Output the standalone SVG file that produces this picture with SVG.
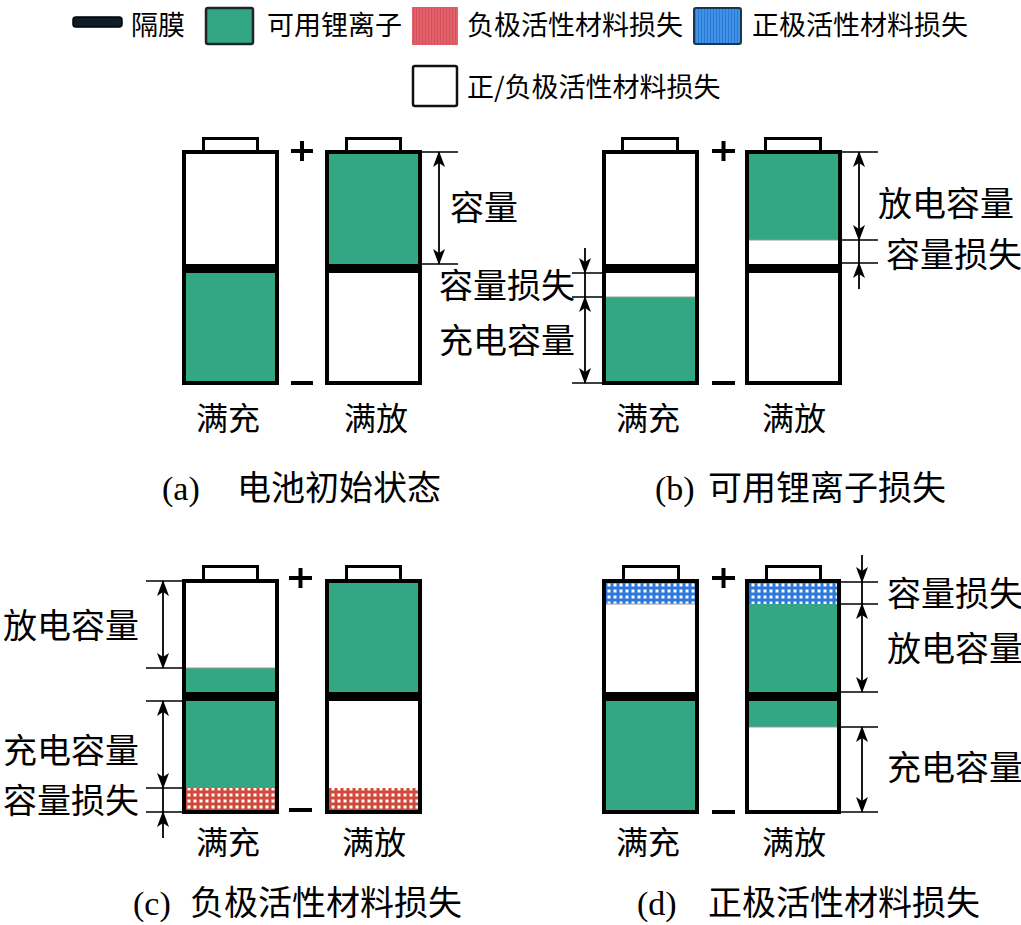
<svg xmlns="http://www.w3.org/2000/svg" width="1021" height="925" viewBox="0 0 1021 925">
<style>
.t{font-family:"Noto Sans CJK SC","Noto Sans",sans-serif;fill:#000}
.leg{font-size:27px}
.lab{font-size:34px}
.bl{font-size:32px}
.cap{font-size:34px}
.ser{font-family:"Liberation Serif","Noto Sans CJK SC",serif}
.body{fill:none;stroke:#000;stroke-width:4}
.capr{fill:#fff;stroke:#000;stroke-width:3}
.g{fill:#33A683}
.w{fill:#fff}
.sep{fill:#000}
.pm{stroke:#000;stroke-width:4;fill:none}
.ext{stroke:#000;stroke-width:1.6;fill:none}
.dim{stroke:#000;stroke-width:1.8;fill:none}
.arr{marker-end:url(#ah)}
.arr2{marker-start:url(#ah);marker-end:url(#ah)}
.bd{stroke:#999;stroke-width:1}
</style>
<defs>
<marker id="ah" viewBox="0 0 16 12" markerWidth="16" markerHeight="12" refX="15" refY="6" orient="auto-start-reverse" markerUnits="userSpaceOnUse">
<path d="M0,0 L16,6 L0,12 L4,6 Z" fill="#000"/>
</marker>
<pattern id="red" width="6" height="6" patternUnits="userSpaceOnUse">
<rect width="6" height="6" fill="#CF4A3A"/>
<rect x="1.5" y="1.5" width="3" height="3" fill="#fff"/>
</pattern>
<pattern id="blue" width="6" height="6" patternUnits="userSpaceOnUse">
<rect width="6" height="6" fill="#2C78DC"/>
<rect x="1.5" y="1.5" width="3" height="3" fill="#fff"/>
</pattern>
<pattern id="legRed" width="3" height="4" patternUnits="userSpaceOnUse">
<rect width="3" height="4" fill="#E0606C"/>
<rect x="2" width="1" height="4" fill="#D85058"/>
</pattern>
<pattern id="legBlue" width="3" height="4" patternUnits="userSpaceOnUse">
<rect width="3" height="4" fill="#3E93E8"/>
<rect x="2" width="1" height="4" fill="#2A78D0"/>
</pattern>
</defs>
<rect width="1021" height="925" fill="#fff"/>

<g id="legend">
<rect x="73" y="17" width="49" height="10" rx="3" fill="#0e1d28" stroke="#000" stroke-width="1.5"/>
<text class="t leg" x="131" y="35">隔膜</text>
<rect x="206" y="8" width="47" height="36" rx="2" fill="#33A683" stroke="#1c2626" stroke-width="2.5"/>
<text class="t leg" x="267" y="35">可用锂离子</text>
<rect x="412" y="7" width="46" height="38" fill="url(#legRed)"/>
<text class="t leg" x="467" y="35">负极活性材料损失</text>
<rect x="694" y="8" width="47" height="36" rx="2" fill="url(#legBlue)" stroke="#1a3550" stroke-width="2"/>
<text class="t leg" x="752" y="35">正极活性材料损失</text>
<rect x="413" y="66" width="44" height="40" rx="2" fill="#fff" stroke="#111" stroke-width="2.5"/>
<text class="t leg" x="467" y="97">正/负极活性材料损失</text>
</g>

<!-- Panel a -->
<g id="a-full">
<rect class="capr" x="203.5" y="138.5" width="54" height="13"/>
<rect class="w" x="184" y="152" width="93" height="112"/>
<rect class="g" x="184" y="273" width="93" height="110"/>
<rect class="sep" x="182" y="264" width="97" height="9"/>
<rect class="body" x="184" y="152" width="93" height="231"/>
<text class="t bl" x="228" y="430" text-anchor="middle">满充</text>
</g>
<g id="a-empty">
<rect class="capr" x="346.5" y="138.5" width="54" height="13"/>
<rect class="g" x="327" y="152" width="93" height="112"/>
<rect class="w" x="327" y="273" width="93" height="110"/>
<rect class="sep" x="325" y="264" width="97" height="9"/>
<rect class="body" x="327" y="152" width="93" height="231"/>
<text class="t bl" x="376" y="430" text-anchor="middle">满放</text>
</g>
<g id="a-signs">
<path class="pm" d="M291,151 H313 M302,141 V161 M291,383 H313"/>
</g>
<g id="a-labels">
<text class="t lab" x="450" y="220">容量</text>
<text class="t cap" x="162" y="500"><tspan class="ser">(a)</tspan><tspan x="237">电池初始状态</tspan></text>
</g>

<!-- Panel b -->
<g id="b-full">
<rect class="capr" x="622.5" y="138.5" width="55" height="13"/>
<rect class="w" x="604" y="152" width="93" height="231"/>
<rect class="g" x="604" y="297" width="93" height="86"/>
<line class="bd" x1="604" y1="297" x2="697" y2="297"/>
<rect class="sep" x="602" y="264" width="97" height="9"/>
<rect class="body" x="604" y="152" width="93" height="231"/>
<text class="t bl" x="648" y="430" text-anchor="middle">满充</text>
</g>
<g id="b-empty">
<rect class="capr" x="765.5" y="138.5" width="55" height="13"/>
<rect class="w" x="747" y="152" width="93" height="231"/>
<rect class="g" x="747" y="152" width="93" height="88"/>
<line class="bd" x1="747" y1="240" x2="840" y2="240"/>
<rect class="sep" x="745" y="264" width="97" height="9"/>
<rect class="body" x="747" y="152" width="93" height="231"/>
<text class="t bl" x="794" y="430" text-anchor="middle">满放</text>
</g>
<g id="b-signs">
<path class="pm" d="M712,151 H735 M723.5,141 V161 M712,383 H735"/>
</g>
<g id="b-labels">
<text class="t lab" x="439" y="298">容量损失</text>
<text class="t lab" x="439" y="353">充电容量</text>
<text class="t lab" x="878" y="216">放电容量</text>
<text class="t lab" x="886" y="267">容量损失</text>
<text class="t cap" x="655" y="500"><tspan class="ser">(b)</tspan><tspan x="708">可用锂离子损失</tspan></text>
</g>

<!-- Panel c -->
<g id="c-full">
<rect class="capr" x="203.5" y="566.5" width="54" height="14"/>
<rect class="w" x="184" y="581" width="93" height="231"/>
<rect class="g" x="184" y="668" width="93" height="24"/>
<rect class="g" x="184" y="701" width="93" height="87"/>
<rect x="184" y="788" width="93" height="24" fill="url(#red)"/>
<line class="bd" x1="184" y1="668" x2="277" y2="668"/>
<rect class="sep" x="182" y="692" width="97" height="9"/>
<rect class="body" x="184" y="581" width="93" height="231"/>
<text class="t bl" x="228" y="854" text-anchor="middle">满充</text>
</g>
<g id="c-empty">
<rect class="capr" x="346.5" y="566.5" width="54" height="14"/>
<rect class="g" x="327" y="581" width="93" height="111"/>
<rect class="w" x="327" y="701" width="93" height="87"/>
<rect x="327" y="788" width="93" height="24" fill="url(#red)"/>
<rect class="sep" x="325" y="692" width="97" height="9"/>
<rect class="body" x="327" y="581" width="93" height="231"/>
<text class="t bl" x="374" y="854" text-anchor="middle">满放</text>
</g>
<g id="c-signs">
<path class="pm" d="M289,578 H312 M300.5,568 V588 M289,810 H312"/>
</g>
<g id="c-labels">
<text class="t lab" x="3" y="638">放电容量</text>
<text class="t lab" x="3" y="763">充电容量</text>
<text class="t lab" x="3" y="813">容量损失</text>
<text class="t cap" x="133" y="915"><tspan class="ser">(c)</tspan><tspan x="190">负极活性材料损失</tspan></text>
</g>

<!-- Panel d -->
<g id="d-full">
<rect class="capr" x="623.5" y="566.5" width="55" height="14"/>
<rect class="w" x="604" y="581" width="93" height="231"/>
<rect x="604" y="581" width="93" height="23" fill="url(#blue)"/>
<rect class="g" x="604" y="701" width="93" height="111"/>
<line class="bd" x1="604" y1="604" x2="697" y2="604"/>
<rect class="sep" x="602" y="692" width="97" height="9"/>
<rect class="body" x="604" y="581" width="93" height="231"/>
<text class="t bl" x="648" y="854" text-anchor="middle">满充</text>
</g>
<g id="d-empty">
<rect class="capr" x="766.5" y="566.5" width="54" height="14"/>
<rect class="w" x="747" y="581" width="92" height="231"/>
<rect x="747" y="581" width="92" height="23" fill="url(#blue)"/>
<rect class="g" x="747" y="604" width="92" height="88"/>
<rect class="g" x="747" y="701" width="92" height="26"/>
<line class="bd" x1="747" y1="727" x2="839" y2="727"/>
<rect class="sep" x="745" y="692" width="96" height="9"/>
<rect class="body" x="747" y="581" width="92" height="231"/>
<text class="t bl" x="794" y="854" text-anchor="middle">满放</text>
</g>
<g id="d-signs">
<path class="pm" d="M712,578 H735 M723.5,568 V588 M712,812 H735"/>
</g>
<g id="d-labels">
<text class="t lab" x="887" y="606">容量损失</text>
<text class="t lab" x="887" y="661">放电容量</text>
<text class="t lab" x="887" y="780">充电容量</text>
<text class="t cap" x="637" y="915"><tspan class="ser">(d)</tspan><tspan x="708">正极活性材料损失</tspan></text>
</g>

<g id="connectors">
<!-- panel a -->
<path class="ext" d="M420,152 H458 M420,264 H458"/>
<line class="dim arr2" x1="439" y1="152" x2="439" y2="264"/>
<!-- panel b left -->
<path class="ext" d="M572,273 H604 M572,297 H604 M572,383 H604"/>
<line class="dim arr" x1="585" y1="248" x2="585" y2="273"/>
<line class="dim" x1="585" y1="273" x2="585" y2="297"/>
<line class="dim arr2" x1="585" y1="297" x2="585" y2="383"/>
<!-- panel b right -->
<path class="ext" d="M840,152 H878 M840,240 H878 M840,263 H878"/>
<line class="dim arr2" x1="859" y1="152" x2="859" y2="240"/>
<line class="dim" x1="859" y1="240" x2="859" y2="263"/>
<line class="dim arr" x1="859" y1="289" x2="859" y2="263"/>
<!-- panel c left -->
<path class="ext" d="M146,581 H184 M146,668 H184 M146,701 H184 M146,788 H184 M146,812 H184"/>
<line class="dim arr2" x1="163" y1="581" x2="163" y2="668"/>
<line class="dim arr2" x1="163" y1="701" x2="163" y2="788"/>
<line class="dim" x1="163" y1="788" x2="163" y2="812"/>
<line class="dim arr" x1="163" y1="838" x2="163" y2="812"/>
<!-- panel d right -->
<path class="ext" d="M839,582 H878 M839,604 H878 M839,692 H878 M839,727 H878 M839,812 H878"/>
<line class="dim arr" x1="862" y1="555" x2="862" y2="582"/>
<line class="dim" x1="862" y1="582" x2="862" y2="604"/>
<line class="dim arr2" x1="862" y1="604" x2="862" y2="692"/>
<line class="dim arr2" x1="862" y1="727" x2="862" y2="812"/>
</g>
</svg>
